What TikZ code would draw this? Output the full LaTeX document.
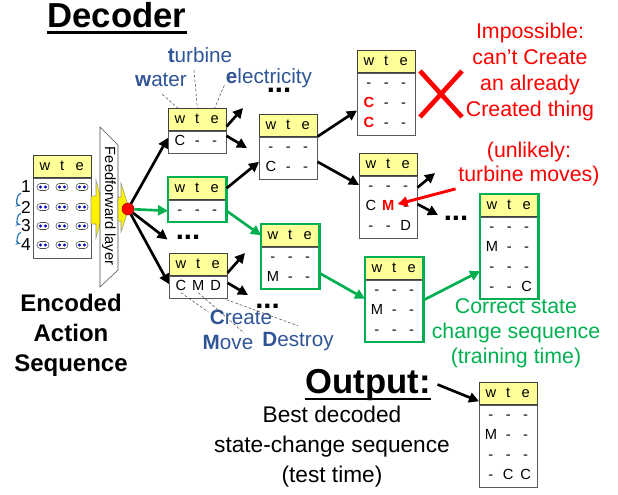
\documentclass[tikz,border=0pt]{standalone}
\usepackage{fontspec}
\setmainfont{Liberation Sans}
\usetikzlibrary{positioning,arrows.meta,shapes.misc}
\definecolor{hdryellow}{RGB}{255,255,153}
\definecolor{okgreen}{RGB}{0,176,80}
\definecolor{lblblue}{RGB}{47,85,151}
\definecolor{seqblue}{RGB}{46,117,182}
\newcommand{\cells}[3]{\strut\makebox[13pt]{#1}\makebox[13pt]{#2}\makebox[13pt]{#3}}
\newcommand{\bad}[1]{\textcolor{red}{\textbf{#1}}}

\begin{document}
\begin{tikzpicture}[x=0.75pt,y=-0.75pt,
    hdr/.style={draw=black!75, fill=hdryellow, anchor=north west, inner xsep=2.25pt, inner ysep=0.75pt, font=\fontsize{11}{15}\selectfont},
    bdy/.style={draw=black!65, fill=white, inner xsep=2.25pt, inner ysep=0.75pt, minimum width=43.5pt, align=left, font=\fontsize{11}{15}\selectfont, below=0pt of #1},
    gbox/.style={draw=okgreen, line width=2pt},
    arr/.style={line width=2pt, -{Triangle[length=7.5pt,width=7.5pt]}},
    guide/.style={black!70, thin, dash pattern=on 2pt off 1.5pt},
    lbl/.style={text=lblblue, inner sep=1pt, font=\fontsize{15.5}{18}\selectfont},
    ttl/.style={anchor=base, inner sep=0pt, font=\fontsize{26}{30}\selectfont\bfseries},
    more/.style={anchor=base, inner sep=0pt, font=\fontsize{22}{22}\selectfont\bfseries}]
\useasboundingbox (0,0) rectangle (618,494);

% titles
\node[ttl] (dec) at (117,27) {Decoder};
\draw[line width=2.2pt] ([yshift=-4.1pt]dec.base west) -- ([yshift=-4.1pt]dec.base east);
\node[ttl] (outl) at (368,393) {Output:};
\draw[line width=2.2pt] ([yshift=-4.5pt]outl.base west) -- ([yshift=-4.5pt]outl.base east);

% encoded action sequence
\node[hdr] (enc) at (33,155) {\cells{w}{t}{e}};
\node[bdy=enc, minimum height=60pt] (encb) {};
\foreach \yy in {187,207,226,245}
  \foreach \xx in {43,62,82} {
    \draw[black!70, fill=white, rounded corners=2.5pt] (\xx-6,\yy-3.5) rectangle (\xx+6,\yy+3.5);
    \fill[blue!75!black] (\xx-2.5,\yy) circle (1.3pt) (\xx+2.5,\yy) circle (1.3pt);
  }
\foreach \k/\yy in {1/187,2/207,3/226,4/245}
  \node[anchor=east, inner sep=0pt, font=\fontsize{13}{13}\selectfont] (n\k) at (31,\yy) {\k};
\foreach \a/\b in {1/2,2/3,3/4}
  \draw[seqblue, line width=0.9pt, -{Stealth[length=4pt]}] (n\a.south west) to[bend right=80] ([yshift=1pt]n\b.west);
\node[align=center, font=\fontsize{18}{22.5}\selectfont\bfseries] (enctxt) at (71,335) {Encoded\\Action\\Sequence};

% feedforward layer
\draw[black!40, fill=yellow] (91,196) -- (96,196) -- (96,180) -- (104,210) -- (96,238) -- (96,224) -- (91,224) -- cycle;
\draw[black!70, fill=white] (100,127) -- (118,145) -- (118,270) -- (100,287) -- cycle;
\node[rotate=-90, font=\fontsize{11}{11}\selectfont] (ff) at (109,206) {Feedforward layer};
\draw[black!40, fill=yellow] (118,197) -- (121,197) -- (121,183) -- (129,208) -- (121,232) -- (121,221) -- (118,221) -- cycle;
\node[circle, fill=red, draw=red!60!black, minimum size=9pt, inner sep=0pt] (dot) at (128,209) {};

% word labels
\node[lbl] (wat) at (161,80) {\textbf{w}ater};
\node[lbl] (tb) at (200,55) {\textbf{t}urbine};
\node[lbl] (el) at (269,78) {\textbf{e}lectricity};
\node[lbl] (cr) at (241,317) {\textbf{C}reate};
\node[lbl] (mv) at (228,342) {\textbf{M}ove};
\node[lbl] (ds) at (298,342) {\textbf{D}estroy};

% decoder states
\node[hdr] (b1) at (168,108) {\cells{w}{t}{e}};
\node[bdy=b1] (b1b) {\cells{C}{-}{-}};
\node[hdr] (b2) at (259,114) {\cells{w}{t}{e}};
\node[bdy=b2] (b2b) {\cells{-}{-}{-}\\\cells{C}{-}{-}};
\node[hdr] (b3) at (168,177) {\cells{w}{t}{e}};
\node[bdy=b3] (b3b) {\cells{-}{-}{-}};
\draw[gbox] (b3.north west) rectangle (b3b.south east);
\node[hdr] (b4) at (169,253) {\cells{w}{t}{e}};
\node[bdy=b4] (b4b) {\cells{C}{M}{D}};
\node[hdr] (b5) at (261,224) {\cells{w}{t}{e}};
\node[bdy=b5] (b5b) {\cells{-}{-}{-}\\\cells{M}{-}{-}};
\draw[gbox] (b5.north west) rectangle (b5b.south east);
\node[hdr] (b6) at (357,50) {\cells{w}{t}{e}};
\node[bdy=b6] (b6b) {\cells{-}{-}{-}\\\cells{\bad{C}}{-}{-}\\\cells{\bad{C}}{-}{-}};
\node[hdr] (b7) at (359,153) {\cells{w}{t}{e}};
\node[bdy=b7] (b7b) {\cells{-}{-}{-}\\\cells{C}{\bad{M}}{-}\\\cells{-}{-}{D}};
\node[hdr] (b8) at (365,257) {\cells{w}{t}{e}};
\node[bdy=b8] (b8b) {\cells{-}{-}{-}\\\cells{M}{-}{-}\\\cells{-}{-}{-}};
\draw[gbox] (b8.north west) rectangle (b8b.south east);
\node[hdr] (b9) at (480,194) {\cells{w}{t}{e}};
\node[bdy=b9] (b9b) {\cells{-}{-}{-}\\\cells{M}{-}{-}\\\cells{-}{-}{-}\\\cells{-}{-}{C}};
\draw[gbox] (b9.north west) rectangle (b9b.south east);
\node[hdr] (out) at (479,382) {\cells{w}{t}{e}};
\node[bdy=out] (outb) {\cells{-}{-}{-}\\\cells{M}{-}{-}\\\cells{-}{-}{-}\\\cells{-}{C}{C}};

% dashed pointers
\draw[guide] ([xshift=1pt,yshift=-4.5pt]wat.south) -- ([xshift=9pt,yshift=-1.5pt]b1.north west);
\draw[guide] ([xshift=-4.5pt,yshift=-4.5pt]tb.south) -- ([xshift=22pt]b1.north west);
\draw[guide] ([yshift=3pt]el.south west) -- ([xshift=35pt]b1.north west);
\draw[guide] ([xshift=9pt,yshift=4pt]b4b.south west) -- ([yshift=-3pt]cr.north west);
\draw[guide] ([xshift=22pt,yshift=4pt]b4b.south west) -- ([xshift=-8pt]mv.north east);
\draw[guide] ([xshift=-4pt]b4b.south east) -- ([yshift=4pt]ds.north);

% unfinished branches
\node[more] (d0) at (279,92.5) {...};
\node[more] (d1) at (188,239.5) {...};
\node[more] (d3) at (267.5,308) {...};
\node[more] (d4) at (456,220) {...};
\coordinate (c1) at (243,108);
\coordinate (c2) at (247,148);
\coordinate (c3) at (245,253);
\coordinate (c4) at (248,295);
\coordinate (c5) at (435,173);
\coordinate (c6) at (438,215);

% transitions
\draw[arr] (dot) -- ([yshift=3pt]b1b.west);
\draw[arr, okgreen] (dot) -- (b3b.west);
\draw[arr] (dot) -- ([xshift=-6pt]d1.base west);
\draw[arr] (dot) -- ([yshift=2pt]b4b.west);
\draw[arr] ([yshift=3pt]b1.south east) -- (c1);
\draw[arr] ([yshift=-4pt]b1.south east) -- (c2);
\draw[arr] (b3.east) -- ([yshift=-3pt]b2b.west);
\draw[arr, okgreen] (b3b.east) -- (b5.west);
\draw[arr] ([yshift=2pt]b4.south east) -- (c3);
\draw[arr] ([yshift=3pt]b4b.east) -- (c4);
\draw[arr] (b2.south east) -- ([yshift=-5pt]b6b.west);
\draw[arr] ([yshift=-3pt]b2b.east) -- ([yshift=-7pt]b7.south west);
\draw[arr] ([yshift=-9pt]b7b.north east) -- (c5);
\draw[arr] ([yshift=2pt]b7b.east) -- (c6);
\draw[arr, okgreen] ([yshift=-4pt]b5b.east) -- ([yshift=9pt]b8b.west);
\draw[arr, okgreen] ([yshift=8pt]b8b.east) -- ([yshift=-10pt]b9b.west);
\draw[arr] ([xshift=5pt]outl.east) -- ([yshift=-6pt]out.west);

% remarks
\node[cross out, draw=red, line width=3.5pt, minimum width=28pt, minimum height=31pt] (nogo) at (441,94) {};
\node[text=red, align=center, font=\fontsize{16}{19.5}\selectfont] (imp) at (530,72) {Impossible:\\can’t Create\\an already\\Created thing};
\node[text=red, align=center, inner sep=2pt, font=\fontsize{16}{18}\selectfont] (unlk) at (529,164) {(unlikely:\\turbine moves)};
\draw[arr, red, line width=2.2pt] (unlk.south west) -- ([xshift=7pt,yshift=2pt]b7b.center);
\node[text=okgreen, align=center, font=\fontsize{16}{18.75}\selectfont] (corr) at (516,333) {Correct state\\change sequence\\(training time)};
\node[align=center, font=\fontsize{17}{22.5}\selectfont] (best) at (332,447) {Best decoded\\state-change sequence\\(test time)};
\end{tikzpicture}
\end{document}
